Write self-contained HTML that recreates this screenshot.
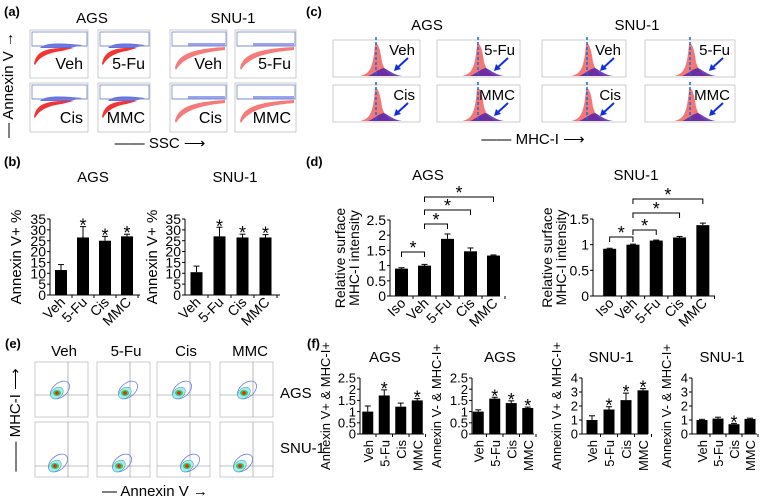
<!DOCTYPE html>
<html><head><meta charset="utf-8"><style>
html,body{margin:0;padding:0;background:#fff;}
svg{display:block;font-family:"Liberation Sans",Arial,sans-serif;}
</style></head><body>
<svg id="fig" width="762" height="502" viewBox="0 0 762 502" xmlns="http://www.w3.org/2000/svg">
<g font-weight="bold" font-size="13">
<text x="4" y="16">(a)</text>
<text x="4" y="166">(b)</text>
<text x="306" y="16">(c)</text>
<text x="306" y="166">(d)</text>
<text x="5" y="348">(e)</text>
<text x="307" y="348">(f)</text>
</g>
<g id="pa"></g>
<g id="pc"></g>
<g id="pe"></g>
<g id="bars"></g>
</svg>
<script>
const NS="http://www.w3.org/2000/svg";
function mk(parent,tag,attrs,txt){const e=document.createElementNS(NS,tag);for(const k in attrs)e.setAttribute(k,attrs[k]);if(txt!==undefined)e.textContent=txt;parent.appendChild(e);return e;}

// ---------- Bar chart data ----------
const catsB=["Veh","5-Fu","Cis","MMC"];
const bAGS=[11.5,26.5,25,27];
const bAGSerr=[2.5,5,2,1];
const bAGSsig=[false,true,true,true];
const bSNU=[10.5,27,26.5,26.5];
const bSNUerr=[2.8,4.2,1.5,1.3];
const bSNUsig=[false,true,true,true];
const ticksB=[0,5,10,15,20,25,30,35];

const catsD=["Iso","Veh","5-Fu","Cis","MMC"];
const dAGS=[0.9,1.0,1.88,1.47,1.33];
const dAGSerr=[0.03,0.04,0.16,0.11,0.02];
const dSNU=[0.92,1.0,1.08,1.14,1.38];
const dSNUerr=[0.01,0.01,0.01,0.02,0.04];
const ticksDA=[0,0.5,1,1.5,2,2.5];
const ticksDS=[0,0.5,1,1.5];

const catsF=["Veh","5-Fu","Cis","MMC"];
const f1=[1.0,1.72,1.22,1.5];
const f1err=[0.25,0.25,0.16,0.08];
const f1sig=[false,true,false,true];
const f2=[1.0,1.58,1.38,1.16];
const f2err=[0.08,0.06,0.1,0.04];
const f2sig=[false,true,true,true];
const f3=[1.0,1.75,2.42,3.12];
const f3err=[0.3,0.2,0.5,0.12];
const f3sig=[false,true,true,true];
const f4=[1.0,1.1,0.7,1.08];
const f4err=[0.05,0.1,0.06,0.05];
const f4sig=[false,false,true,false];
const ticksF12=[0,0.5,1,1.5,2,2.5];
const ticksF34=[0,1,2,3,4];

const G=document.getElementById('bars');
function barChart(o){
  const g=mk(G,'g',{});
  
  
  const ymax=o.ticks[o.ticks.length-1];
  const Y=v=>o.y0-(v/ymax)*(o.y0-o.y1);
  const X=i=>o.x0+o.gap*(i+0.5)+o.pad;
  mk(g,'line',{x1:o.x0,y1:o.y1,x2:o.x0,y2:o.y0,stroke:'#000','stroke-width':1});
  mk(g,'line',{x1:o.x0,y1:o.y0,x2:o.xe,y2:o.y0,stroke:'#000','stroke-width':1});
  o.ticks.forEach(t=>{
    mk(g,'line',{x1:o.x0-3,y1:Y(t),x2:o.x0,y2:Y(t),stroke:'#000'});
    const tl=mk(g,'text',{x:o.x0-4,y:Y(t)+o.fs*0.36,'font-size':o.fs,'text-anchor':'end'},String(t));
    
    
  });
  for(let i=1;i<=o.cats.length;i++){const xx=o.x0+o.pad+o.gap*i; mk(g,'line',{x1:xx,y1:o.y0,x2:xx,y2:o.y0+3,stroke:'#000'});}
  o.vals.forEach((v,i)=>{
    const r=mk(g,'rect',{x:X(i)-o.bw/2,y:Y(v),width:o.bw,height:o.y0-Y(v),fill:'#000'});
    
    
    const e=o.err[i];
    mk(g,'line',{x1:X(i),y1:Y(v),x2:X(i),y2:Y(v+e),stroke:'#000'});
    mk(g,'line',{x1:X(i)-3,y1:Y(v+e),x2:X(i)+3,y2:Y(v+e),stroke:'#000'});
    if(o.sig&&o.sig[i]){const s=mk(g,'text',{x:X(i),y:Y(v+e)+5,'font-size':18,'text-anchor':'middle'},'*');
      }
    let lab;
    if(o.rot===90){lab=mk(g,'text',{x:X(i)+5,y:o.y0+6,'font-size':o.fs,'text-anchor':'end',transform:`rotate(-90 ${X(i)+5} ${o.y0+6})`},o.cats[i]);}
    else {lab=mk(g,'text',{x:X(i)+5,y:o.y0+8,'font-size':o.fs,'text-anchor':'end',transform:`rotate(-45 ${X(i)+5} ${o.y0+8})`},o.cats[i]);}
    
    
  });
  const t=mk(g,'text',{x:o.tx,y:o.ty,'font-size':15,'text-anchor':'middle'},o.title);
  
  o.ylab.forEach((l,k)=>{
    const yx=o.ylx+k*o.yfs;
    const yl=mk(g,'text',{x:yx,y:(o.y0+o.y1)/2,'font-size':o.yfs,'text-anchor':'middle',transform:`rotate(-90 ${yx} ${(o.y0+o.y1)/2})`},l);
    
  });
  (o.brackets||[]).forEach(b=>{
    const a=X(b[0]),c=X(b[1]),yy=b[2];
    mk(g,'path',{d:`M${a},${yy+5} V${yy} H${c} V${yy+5}`,fill:'none',stroke:'#000'});
    const s=mk(g,'text',{x:(a+c)/2,y:yy+2,'font-size':18,'text-anchor':'middle'},'*');
    
  });
  return g;
}
barChart({name:'chart-b-ags',cats:catsB,vals:bAGS,err:bAGSerr,sig:bAGSsig,ticks:ticksB,x0:50,xe:140,y0:295,y1:219,gap:22,pad:0,bw:12,fs:14,rot:45,title:'AGS',tx:93,ty:182,ylab:['Annexin V+ %'],ylx:21,yfs:15});
barChart({name:'chart-b-snu1',cats:catsB,vals:bSNU,err:bSNUerr,sig:bSNUsig,ticks:ticksB,x0:185,xe:280,y0:295,y1:219,gap:23,pad:0,bw:12,fs:14,rot:45,title:'SNU-1',tx:235,ty:182,ylab:['Annexin V+ %'],ylx:157,yfs:15});
barChart({name:'chart-d-ags',cats:catsD,vals:dAGS,err:dAGSerr,ticks:ticksDA,x0:390,xe:500,y0:296,y1:220,gap:23,pad:0,bw:13,fs:14,rot:45,title:'AGS',tx:428,ty:180,ylab:['Relative surface','MHC-I intensity'],ylx:345,yfs:14,
  brackets:[[0,1,252],[1,2,224],[1,3,210],[1,4,197]]});
barChart({name:'chart-d-snu1',cats:catsD,vals:dSNU,err:dSNUerr,ticks:ticksDS,x0:593,xe:715,y0:296,y1:219,gap:23.3,pad:5,bw:13,fs:14,rot:45,title:'SNU-1',tx:636,ty:180,ylab:['Relative surface','MHC-I intensity'],ylx:552,yfs:14,
  brackets:[[0,1,237],[1,2,230],[1,3,213],[1,4,199]]});
barChart({name:'chart-f-1',cats:catsF,vals:f1,err:f1err,sig:f1sig,ticks:ticksF12,x0:360,xe:424,y0:434,y1:378,gap:16.5,pad:-0.5,bw:11,fs:13,rot:90,title:'AGS',tx:385,ty:362,ylab:['Annexin V+ & MHC-I+'],ylx:330,yfs:13});
barChart({name:'chart-f-2',cats:catsF,vals:f2,err:f2err,sig:f2sig,ticks:ticksF12,x0:472,xe:534,y0:434,y1:378,gap:16.5,pad:-2,bw:11,fs:13,rot:90,title:'AGS',tx:500,ty:362,ylab:['Annexin V- & MHC-I+'],ylx:441,yfs:13});
barChart({name:'chart-f-3',cats:catsF,vals:f3,err:f3err,sig:f3sig,ticks:ticksF34,x0:582,xe:648,y0:434,y1:378,gap:17,pad:1.5,bw:11,fs:13,rot:90,title:'SNU-1',tx:611,ty:362,ylab:['Annexin V+ & MHC-I+'],ylx:561,yfs:13});
barChart({name:'chart-f-4',cats:catsF,vals:f4,err:f4err,sig:f4sig,ticks:ticksF34,x0:692,xe:757,y0:434,y1:378,gap:16,pad:2,bw:11,fs:13,rot:90,title:'SNU-1',tx:722,ty:362,ylab:['Annexin V- & MHC-I+'],ylx:671,yfs:13});

// ---------- Panel a: scatter plots ----------
const PA=document.getElementById('pa');
const aBoxes=[[30,30,58,48,'Veh',false],[98,30,52,48,'5-Fu',false],[170,30,57,48,'Veh',true],[235,30,61,48,'5-Fu',true],
              [30,83,58,49,'Cis',false],[98,83,52,49,'MMC',false],[170,83,57,49,'Cis',true],[235,83,61,49,'MMC',true]];
aBoxes.forEach(b=>{
  const [x,y,w,h,l,snu]=b;
  const g=mk(PA,'g',{});
  
  
  mk(g,'rect',{x:x,y:y,width:w,height:h,fill:'#fff',stroke:'#aaa','stroke-width':0.6});
  const gy=y+16;
  if(!snu){
    mk(g,'path',{d:`M${x+4},${gy+18} C${x+6},${gy+6} ${x+14},${gy+1} ${x+w*0.75},${gy+2} L${x+w*0.55},${gy+5} C${x+16},${gy+7} ${x+9},${gy+12} ${x+5},${gy+19}Z`,fill:'#ee1111',opacity:0.85});
    mk(g,'path',{d:`M${x+10},${gy+2} C${x+14},${gy-4} ${x+w*0.6},${gy-3} ${x+w*0.9},${gy-1} L${x+w*0.7},${gy+2}Z`,fill:'#2233dd',opacity:0.7});
  } else {
    mk(g,'path',{d:`M${x+5},${gy+22} C${x+8},${gy+9} ${x+20},${gy+3} ${x+w-2},${gy+1} L${x+w-2},${gy+4} C${x+24},${gy+7} ${x+12},${gy+14} ${x+6},${gy+24}Z`,fill:'#ee2222',opacity:0.6});
    mk(g,'rect',{x:x+18,y:gy-3,width:w-20,height:3,fill:'#2233dd',opacity:0.45});
  }
  mk(g,'line',{x1:x+2,y1:gy,x2:x+w-1,y2:gy,stroke:'#7788cc','stroke-width':0.8});
  mk(g,'rect',{x:x+2,y:y+2,width:w-3,height:gy-y-2,fill:'none',stroke:'#7788cc','stroke-width':0.8});
  mk(g,'text',{x:x+w-5,y:y+h-9,'font-size':16,'text-anchor':'end'},l);
});
[['AGS',92,23],['SNU-1',233,23]].forEach(t=>{const e=mk(PA,'text',{x:t[1],y:t[2],'font-size':15,'text-anchor':'middle'},t[0]);});
let ya=mk(PA,'text',{x:13,y:85,'font-size':15,'text-anchor':'middle',transform:'rotate(-90 13 85)'},'— Annexin V →');

let xa=mk(PA,'text',{x:160,y:148,'font-size':15,'text-anchor':'middle'},'—— SSC ⟶');


// ---------- Panel c: histograms ----------
const PC=document.getElementById('pc');
const cBoxes=[[333,40,87,37,'Veh',376],[437,40,83,37,'5-Fu',478],[542,40,84,37,'Veh',587],[645,40,90,37,'5-Fu',690],
              [333,85,87,37,'Cis',376],[437,85,83,37,'MMC',478],[542,85,84,37,'Cis',587],[645,85,90,37,'MMC',690]];
cBoxes.forEach(b=>{
  const [x,y,w,h,l,dx]=b;
  const g=mk(PC,'g',{});
  
  
  mk(g,'rect',{x:x,y:y,width:w,height:h,fill:'#fff',stroke:'#aaa','stroke-width':0.6});
  const base=y+h-1, px=dx+2;
  mk(g,'path',{d:`M${px-18},${base} C${px-8},${base-2} ${px-5},${base-8} ${px-3},${y+4} C${px-1},${y+2} ${px+2},${y+6} ${px+4},${base-14} C${px+7},${base-4} ${px+12},${base} ${px+18},${base}Z`,fill:'#f06060',opacity:0.85});
  mk(g,'path',{d:`M${px-10},${base} C${px-4},${base-2} ${px},${base-7} ${px+6},${base-8} C${px+12},${base-5} ${px+16},${base-1} ${px+24},${base}Z`,fill:'#5522aa',opacity:0.85});
  mk(g,'line',{x1:dx,y1:y-3,x2:dx,y2:y+h,stroke:'#1a6ad0','stroke-width':1.5,'stroke-dasharray':'3,2'});
  mk(g,'text',{x:x+w-5,y:y+15,'font-size':15,'text-anchor':'end'},l);
  const ax=x+w-22, ay=y+18;
  mk(g,'line',{x1:ax+10,y1:ay,x2:ax-2,y2:ay+11,stroke:'#1030e0','stroke-width':2});
  mk(g,'path',{d:`M${ax-4},${ay+13} l2,-7 l5,5Z`,fill:'#1030e0'});
});
[['AGS',427,30],['SNU-1',637,30]].forEach(t=>{const e=mk(PC,'text',{x:t[1],y:t[2],'font-size':15,'text-anchor':'middle'},t[0]);});
let xc=mk(PC,'text',{x:533,y:144,'font-size':15,'text-anchor':'middle'},'—— MHC-I ⟶');


// ---------- Panel e: contour plots ----------
const PE=document.getElementById('pe');
const eCols=[35,97,157,220];
const eRows=[362,422];
const eCx=[[22,28,22,24],[20,22,30,20]];
eRows.forEach((ry,ri)=>eCols.forEach((cx,ci)=>{
  const g=mk(PE,'g',{});
  
  
  mk(g,'rect',{x:cx,y:ry,width:53,height:55,fill:'#fff',stroke:'#aaa','stroke-width':0.6});
  const vx=cx+33, hy=ri===0?ry+33:ry+44;
  mk(g,'line',{x1:vx,y1:ry,x2:vx,y2:ry+55,stroke:'#888','stroke-width':0.6});
  mk(g,'line',{x1:cx,y1:hy,x2:cx+53,y2:hy,stroke:'#888','stroke-width':0.6});
  const px=cx+eCx[ri][ci], py=ri===0?ry+31:ry+44;
  mk(g,'ellipse',{cx:px+3,cy:py-3,rx:11,ry:7,fill:'none',stroke:'#6a80ee','stroke-width':0.8,transform:`rotate(-40 ${px+3} ${py-3})`});
  mk(g,'ellipse',{cx:px,cy:py,rx:7,ry:5,fill:'#a8e8ee',stroke:'#3aa','stroke-width':0.5,transform:`rotate(-40 ${px} ${py})`});
  mk(g,'ellipse',{cx:px,cy:py,rx:4,ry:3,fill:'#33cc55'});
  mk(g,'circle',{cx:px,cy:py,r:1.8,fill:'#ee2222'});
}));
[['Veh',64],['5-Fu',126],['Cis',186],['MMC',250]].forEach(t=>{const e=mk(PE,'text',{x:t[1],y:356,'font-size':15,'text-anchor':'middle'},t[0]);});
[['AGS',280,398],['SNU-1',280,453]].forEach(t=>{const e=mk(PE,'text',{x:t[1],y:t[2],'font-size':15},t[0]);});
let ye=mk(PE,'text',{x:20,y:420,'font-size':15,'text-anchor':'middle',transform:'rotate(-90 20 420)'},'—— MHC-I ⟶');

let xe=mk(PE,'text',{x:155,y:496,'font-size':15,'text-anchor':'middle'},'— Annexin V →');

</script>
</body></html>
